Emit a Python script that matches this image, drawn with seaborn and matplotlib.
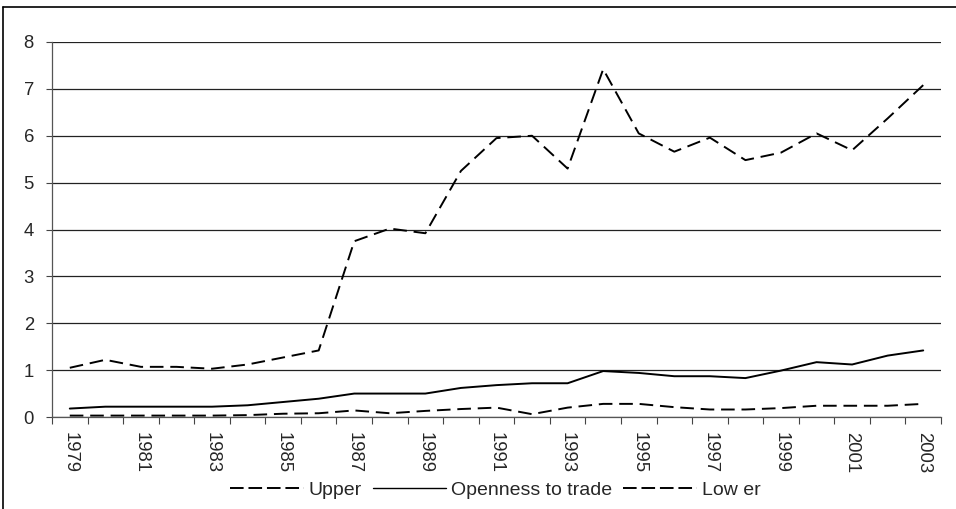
import matplotlib
matplotlib.use("Agg")
import matplotlib.pyplot as plt
import seaborn as sns
import pandas as pd
import numpy as np
from matplotlib.lines import Line2D
from matplotlib.ticker import FixedLocator, NullFormatter

years = list(range(1979, 2004))
upper = [1.05, 1.22, 1.07, 1.07, 1.03, 1.12, 1.27, 1.42, 3.75, 4.02, 3.92, 5.25,
         5.95, 6.00, 5.30, 7.42, 6.05, 5.66, 5.96, 5.48, 5.64, 6.05, 5.69, 6.37, 7.08]
openness = [0.18, 0.22, 0.22, 0.22, 0.22, 0.25, 0.32, 0.39, 0.50, 0.50, 0.50, 0.62,
            0.68, 0.72, 0.72, 0.98, 0.94, 0.87, 0.87, 0.83, 0.99, 1.17, 1.12, 1.31, 1.42]
lower = [0.03, 0.03, 0.03, 0.03, 0.03, 0.04, 0.07, 0.08, 0.14, 0.08, 0.13, 0.17,
         0.20, 0.06, 0.20, 0.28, 0.28, 0.21, 0.16, 0.16, 0.19, 0.24, 0.24, 0.24, 0.28]
series_names = ["Upper", "Openness to trade", "Low er"]

idx = np.arange(len(years))
df = pd.DataFrame({
    "idx": np.concatenate([idx, idx, idx]),
    "value": upper + openness + lower,
    "series": np.repeat(series_names, len(years)),
})

sns.set_style("white")
plt.rcParams['font.family'] = ['Liberation Sans', 'DejaVu Sans']

fig = plt.figure(figsize=(9.56, 5.09), dpi=100)
ax = fig.add_axes([52/956, 1-417/509, (941-52)/956, (417-42)/509])

dash = (7, 3.5)
sns.lineplot(data=df, x="idx", y="value", hue="series", style="series",
             palette={n: "black" for n in series_names},
             dashes={"Upper": dash, "Openness to trade": "", "Low er": dash},
             linewidth=1.4, ax=ax, legend=False)

ax.set_xlim(-0.5, len(years) - 0.5)
ax.set_ylim(0, 8)
ax.set_yticks(range(0, 9))
ax.yaxis.grid(True, color="#222222", linewidth=0.9)
ax.set_axisbelow(True)

ax.set_xticks(idx[::2])
ax.set_xticklabels([str(y) for y in years[::2]], rotation=-90, fontsize=13.3)
ax.tick_params(axis="x", which="major", length=0, pad=10.5)
ax.xaxis.set_minor_locator(FixedLocator(np.arange(-0.5, len(years), 1.0)))
ax.xaxis.set_minor_formatter(NullFormatter())
ax.tick_params(axis="x", which="minor", length=5, width=0.8, color="#444444", direction="out", bottom=True)
ax.tick_params(axis="y", length=4, width=0.8, color="#444444", labelsize=13.3, left=True,
               direction="out", pad=9)
ax.set_xlabel("")
ax.set_ylabel("")

for side in ["top", "right"]:
    ax.spines[side].set_visible(False)
for side in ["left", "bottom"]:
    ax.spines[side].set_color("#555555")
    ax.spines[side].set_linewidth(0.9)

handles = [
    Line2D([], [], color="black", linewidth=1.4, dashes=(7, 2.5)),
    Line2D([], [], color="black", linewidth=1.0),
    Line2D([], [], color="black", linewidth=1.4, dashes=(7, 2.5)),
]
fig.legend(handles, series_names, loc="center", bbox_to_anchor=(0.518, 1-490/509),
           ncol=3, frameon=False, fontsize=14, handlelength=3.8, handletextpad=0.25,
           columnspacing=0.55)

# figure frame (left and top edges)
fig.add_artist(Line2D([3/956, 3/956], [0, 1-7/509], transform=fig.transFigure,
                      color="black", linewidth=1.2))
fig.add_artist(Line2D([3/956, 1], [1-7/509, 1-7/509], transform=fig.transFigure,
                      color="black", linewidth=1.2))

fig.savefig("out.png", dpi=100)
